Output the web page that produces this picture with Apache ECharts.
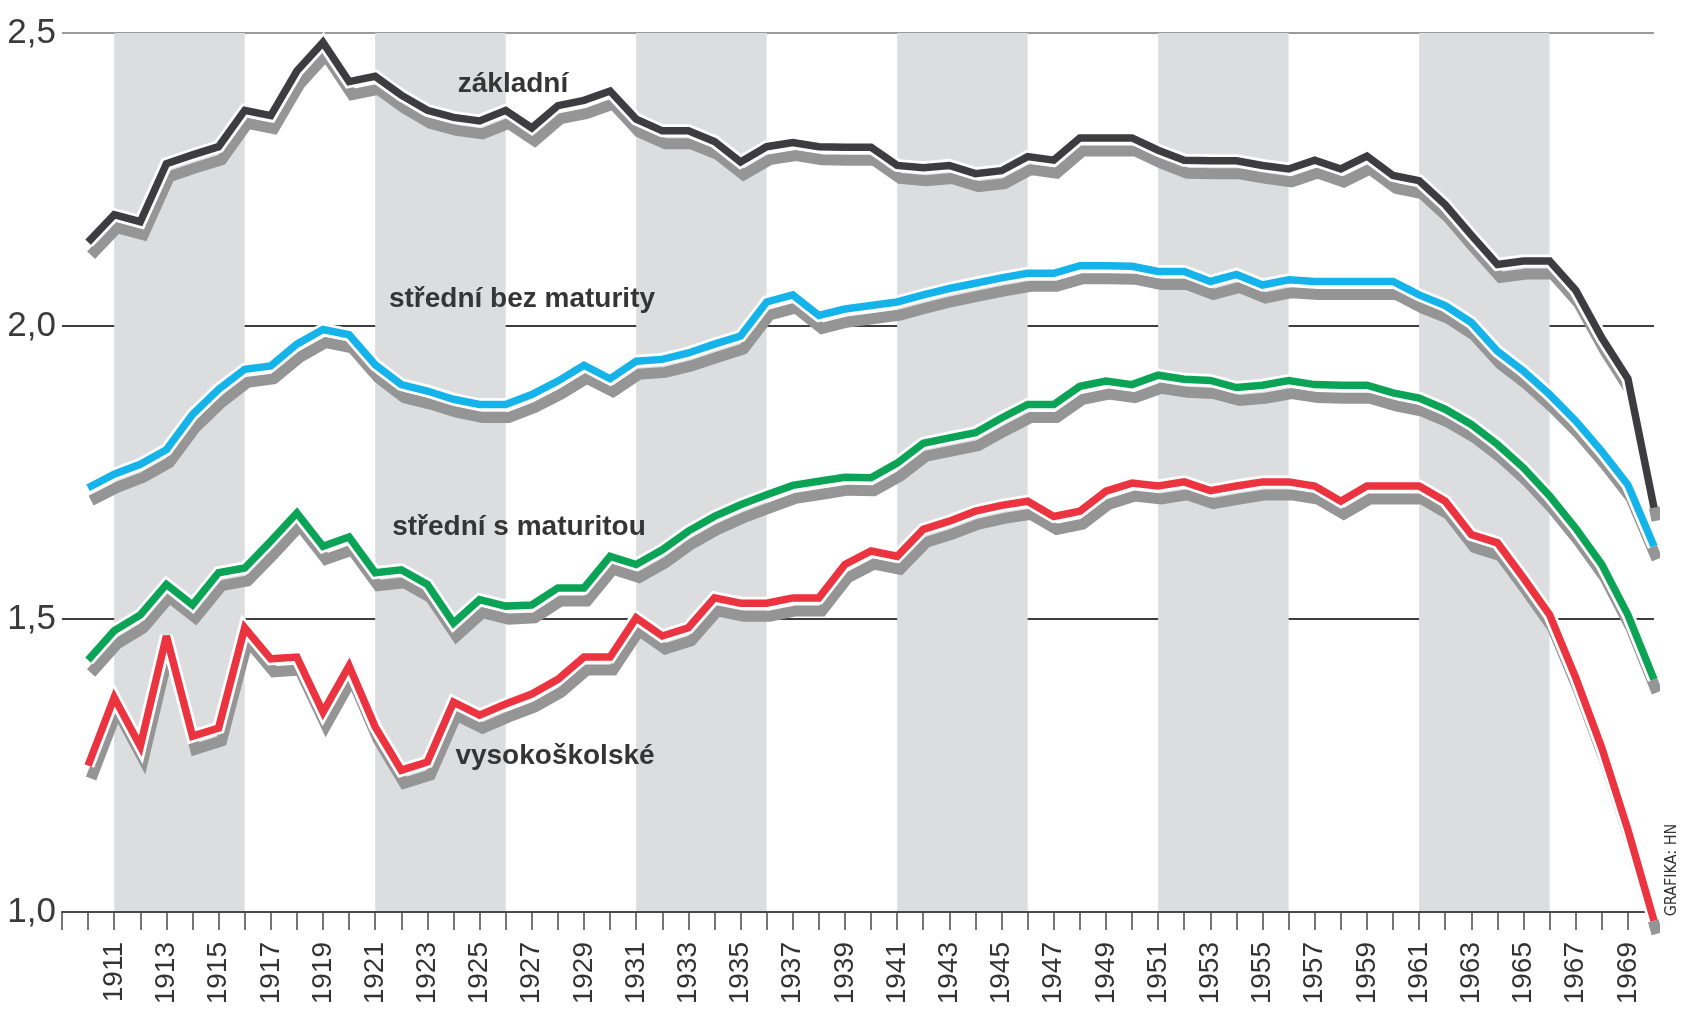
<!DOCTYPE html>
<html>
<head>
<meta charset="utf-8">
<script src="https://cdn.jsdelivr.net/npm/echarts@6/dist/echarts.min.js"></script>
<style>
html,body{margin:0;padding:0;background:#fff;}
#chart{width:1694px;height:1009px;}
</style>
</head>
<body>
<div id="chart"></div>
<script>
const years = [1910,1911,1912,1913,1914,1915,1916,1917,1918,1919,
  1920,1921,1922,1923,1924,1925,1926,1927,1928,1929,
  1930,1931,1932,1933,1934,1935,1936,1937,1938,1939,
  1940,1941,1942,1943,1944,1945,1946,1947,1948,1949,
  1950,1951,1952,1953,1954,1955,1956,1957,1958,1959,
  1960,1961,1962,1963,1964,1965,1966,1967,1968,1969,1970];

const zakladni = [2.143,2.19,2.178,2.277,2.292,2.306,2.368,2.359,2.435,2.484,
  2.417,2.426,2.394,2.368,2.356,2.35,2.368,2.338,2.376,2.385,
  2.401,2.353,2.333,2.333,2.315,2.28,2.306,2.313,2.306,2.305,
  2.305,2.274,2.27,2.274,2.26,2.265,2.289,2.283,2.321,2.321,
  2.321,2.30,2.283,2.282,2.282,2.274,2.268,2.283,2.268,2.29,
  2.257,2.248,2.207,2.155,2.105,2.111,2.111,2.061,1.98,1.91,1.69];

const bezMaturity = [1.724,1.747,1.764,1.789,1.849,1.892,1.926,1.932,1.969,1.994,
  1.985,1.934,1.90,1.889,1.875,1.866,1.866,1.883,1.906,1.933,
  1.91,1.94,1.943,1.954,1.969,1.983,2.041,2.053,2.018,2.029,
  2.035,2.041,2.053,2.064,2.073,2.082,2.09,2.09,2.103,2.103,
  2.102,2.093,2.093,2.076,2.088,2.07,2.079,2.076,2.076,2.076,
  2.076,2.053,2.035,2.006,1.957,1.923,1.883,1.838,1.786,1.729,1.624];

const sMaturitou = [1.43,1.48,1.507,1.559,1.524,1.579,1.587,1.633,1.681,1.624,
  1.64,1.579,1.584,1.559,1.493,1.533,1.522,1.524,1.553,1.553,
  1.607,1.593,1.618,1.65,1.675,1.695,1.712,1.728,1.735,1.742,
  1.741,1.766,1.80,1.809,1.818,1.843,1.866,1.866,1.897,1.906,
  1.90,1.916,1.909,1.907,1.895,1.899,1.907,1.90,1.899,1.899,
  1.886,1.877,1.858,1.832,1.798,1.758,1.71,1.655,1.593,1.507,1.397];

const vysokoskolske = [1.25,1.366,1.283,1.471,1.30,1.314,1.485,1.432,1.435,1.341,
  1.42,1.316,1.242,1.256,1.358,1.336,1.355,1.372,1.397,1.435,
  1.435,1.502,1.471,1.485,1.536,1.527,1.527,1.536,1.536,1.593,
  1.616,1.607,1.653,1.667,1.684,1.694,1.701,1.675,1.684,1.718,
  1.732,1.727,1.734,1.719,1.727,1.734,1.734,1.727,1.701,1.727,
  1.727,1.727,1.701,1.644,1.63,1.57,1.507,1.40,1.28,1.14,0.985];

const bandStarts = [1911,1921,1931,1941,1951,1961];
const bandEnds   = [1916,1926,1936,1946,1956,1966];

const seriesNames = ['základní','střední bez maturity','střední s maturitou','vysokoškolské'];
const seriesColors = ['#3d3d3f','#14b4ea','#0ba456','#ec3340'];
const seriesValues = [zakladni, bezMaturity, sMaturitou, vysokoskolske];

const FONT = '"Liberation Sans", Arial, sans-serif';

function pairs(vals){ return years.map((y,i)=>[y, vals[i]]); }

const series = [];
// shaded bands
series.push({
  type:'line', data:[], z:0, silent:true, animation:false,
  markArea:{silent:true, itemStyle:{color:'#dcdddf'},
    data: bandStarts.map((b,i)=>[{xAxis:b, yAxis:1.0},{xAxis:bandEnds[i], yAxis:2.5}])}
});
seriesValues.forEach((vals,k)=>{
  series.push({name:seriesNames[k]+'_shadow', type:'line', data:pairs(vals), symbol:'none', z:2, clip:false,
    silent:true, animation:false,
    lineStyle:{color:'#959595', width:11, join:'miter', miterLimit:3,
      shadowColor:'#959595', shadowOffsetX:3, shadowOffsetY:13, shadowBlur:0}});
});
seriesValues.forEach((vals,k)=>{
  series.push({name:seriesNames[k]+'_halo', type:'line', data:pairs(vals), symbol:'none', z:3, clip:false,
    silent:true, animation:false,
    lineStyle:{color:'#ffffff', width:13, join:'miter', miterLimit:3}});
});
seriesValues.forEach((vals,k)=>{
  series.push({name:seriesNames[k], type:'line', data:pairs(vals), symbol:'none', z:4, clip:false,
    silent:true, animation:false,
    lineStyle:{color:seriesColors[k], width:7.5, join:'miter', miterLimit:3}});
});

const chart = echarts.init(document.getElementById('chart'), null, {renderer:'canvas'});
chart.setOption({
  animation:false,
  backgroundColor:'#ffffff',
  grid:{left:62, right:40, top:33, bottom:97, containLabel:false},
  xAxis:{
    type:'value', min:1909, max:1970, interval:1, z:1,
    axisLine:{show:true, lineStyle:{color:'#4a4a4a', width:2}},
    axisTick:{show:true, length:18, lineStyle:{color:'#4a4a4a', width:1.5}},
    splitLine:{show:false},
    axisLabel:{
      rotate:90, margin:30, fontSize:28, color:'#333', fontFamily:FONT,
      formatter:function(v){ return (v>=1911 && v<=1969 && v%2===1) ? String(v) : ''; }
    }
  },
  yAxis:{
    type:'value', min:1.0, max:2.5, interval:0.5, z:1,
    axisLine:{show:false}, axisTick:{show:false},
    splitLine:{show:true, lineStyle:{color:['rgba(0,0,0,0)','#3e3e3e','#3e3e3e','#9a9a9a'], width:2}},
    axisLabel:{
      margin:6, fontSize:35, color:'#3a3a3a', fontFamily:FONT,
      padding:[0,0,12,0],
      formatter:function(v){ return v.toFixed(1).replace('.', ','); }
    }
  },
  graphic:[
    {type:'text', x:513, y:84, z:10, style:{text:seriesNames[0], font:'bold 28px '+FONT, fill:'#353535', align:'center', verticalAlign:'middle'}},
    {type:'text', x:522, y:299, z:10, style:{text:seriesNames[1], font:'bold 28px '+FONT, fill:'#353535', align:'center', verticalAlign:'middle'}},
    {type:'text', x:519, y:527, z:10, style:{text:seriesNames[2], font:'bold 28px '+FONT, fill:'#353535', align:'center', verticalAlign:'middle'}},
    {type:'text', x:555, y:756, z:10, style:{text:seriesNames[3], font:'bold 28px '+FONT, fill:'#353535', align:'center', verticalAlign:'middle'}},
    {type:'text', x:1672, y:870, rotation:Math.PI/2, z:10, style:{text:'GRAFIKA: HN', font:'16px "Liberation Sans Narrow", "DejaVu Sans Condensed", sans-serif', fill:'#333', align:'center', verticalAlign:'middle'}}
  ],
  series: series
});
</script>
</body>
</html>
